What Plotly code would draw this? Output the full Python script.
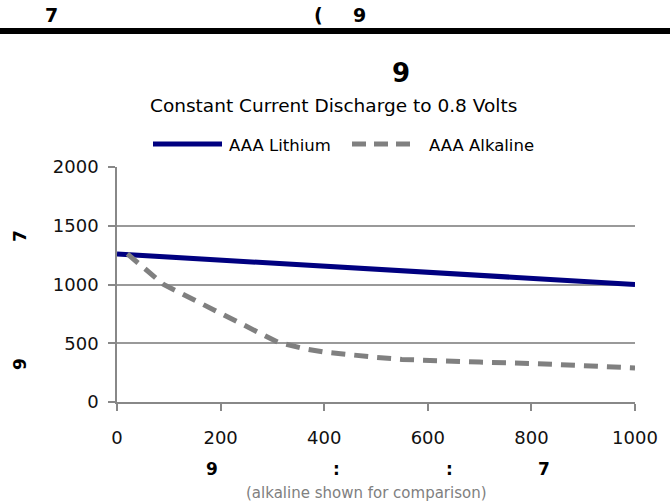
import plotly.graph_objects as go

# ---- data ----
lithium_x = [0, 1000]
lithium_y = [1260, 1000]
alkaline_x = [20, 90, 310, 360, 400, 450, 500, 550, 600, 700, 800, 900, 1000]
alkaline_y = [1260, 1000, 510, 455, 425, 400, 380, 362, 352, 340, 328, 310, 290]
series_names = ["AAA Lithium", "AAA Alkaline"]
x_ticks = [0, 200, 400, 600, 800, 1000]
y_ticks = [0, 500, 1000, 1500, 2000]

W, H = 670, 504
L, R, T, B = 117, 635, 167, 402
FONT = "DejaVu Sans, Verdana, sans-serif"

def px(x):
    return (x - L) / (R - L)

def py(y):
    return (B - y) / (B - T)

fig = go.Figure()
fig.add_trace(go.Scatter(x=lithium_x, y=lithium_y, mode="lines", name=series_names[0],
                         line=dict(color="#000080", width=5), showlegend=False))
fig.add_trace(go.Scatter(x=alkaline_x, y=alkaline_y, mode="lines", name=series_names[1],
                         line=dict(color="#808080", width=5, dash="14px,9px"), showlegend=False))

shapes = [
    dict(type="line", xref="paper", yref="paper", x0=px(0), x1=px(670), y0=py(31), y1=py(31),
         line=dict(color="black", width=6)),
    dict(type="line", xref="paper", yref="paper", x0=px(153), x1=px(222), y0=py(144), y1=py(144),
         line=dict(color="#000080", width=5)),
    dict(type="line", xref="paper", yref="paper", x0=px(352), x1=px(411), y0=py(144), y1=py(144),
         line=dict(color="#808080", width=5, dash="14px,8px")),
]

def ann(text, x, y, size, bold=False, color="black", xanchor="center", angle=0):
    return dict(text=("<b>%s</b>" % text) if bold else text, x=px(x), y=py(y),
                xref="paper", yref="paper", showarrow=False, xanchor=xanchor, yanchor="middle",
                textangle=angle, font=dict(family=FONT, size=size, color=color))

annotations = [
    ann("7", 51, 15, 19, bold=True),
    ann("(", 318, 15, 19, bold=True),
    ann("9", 359, 15, 19, bold=True),
    ann("9", 401, 73, 26, bold=True),
    ann("Constant Current Discharge to 0.8 Volts", 333, 105, 18.5),
    ann(series_names[0], 227, 145, 16.5, xanchor="left"),
    ann(series_names[1], 427, 145, 16.5, xanchor="left"),
    ann("7", 20, 236, 17, bold=True, angle=-90),
    ann("9", 20, 364, 17, bold=True, angle=-90),
    ann("9", 212, 469, 17, bold=True),
    ann(":", 336, 469, 17, bold=True),
    ann(":", 449, 469, 17, bold=True),
    ann("7", 544, 469, 17, bold=True),
    ann("(alkaline shown for comparison)", 366, 493, 15, color="#808080"),
]

fig.update_layout(
    width=W, height=H,
    margin=dict(l=L, r=W - R, t=T, b=H - B, pad=0),
    paper_bgcolor="white", plot_bgcolor="white",
    showlegend=False,
    shapes=shapes, annotations=annotations,
    font=dict(family=FONT, size=18, color="#111"),
)
fig.update_xaxes(range=[0, 1000], tickvals=x_ticks, ticks="outside", ticklen=7, tickwidth=1.5,
                 tickcolor="#888", showline=True, linecolor="#888", linewidth=1.5,
                 showgrid=False, zeroline=False, ticklabelstandoff=12,
                 tickfont=dict(family=FONT, size=18, color="#111"))
fig.update_yaxes(range=[0, 2000], tickvals=y_ticks, ticks="outside", ticklen=7, tickwidth=1.5,
                 tickcolor="#888", showline=True, linecolor="#888", linewidth=1.5,
                 showgrid=True, gridcolor="#999", gridwidth=1.5, zeroline=False,
                 ticklabelstandoff=6, tickfont=dict(family=FONT, size=18, color="#111"))

fig.write_html("out.html", config={"displayModeBar": False},
               post_script="document.body.style.margin='0';")
